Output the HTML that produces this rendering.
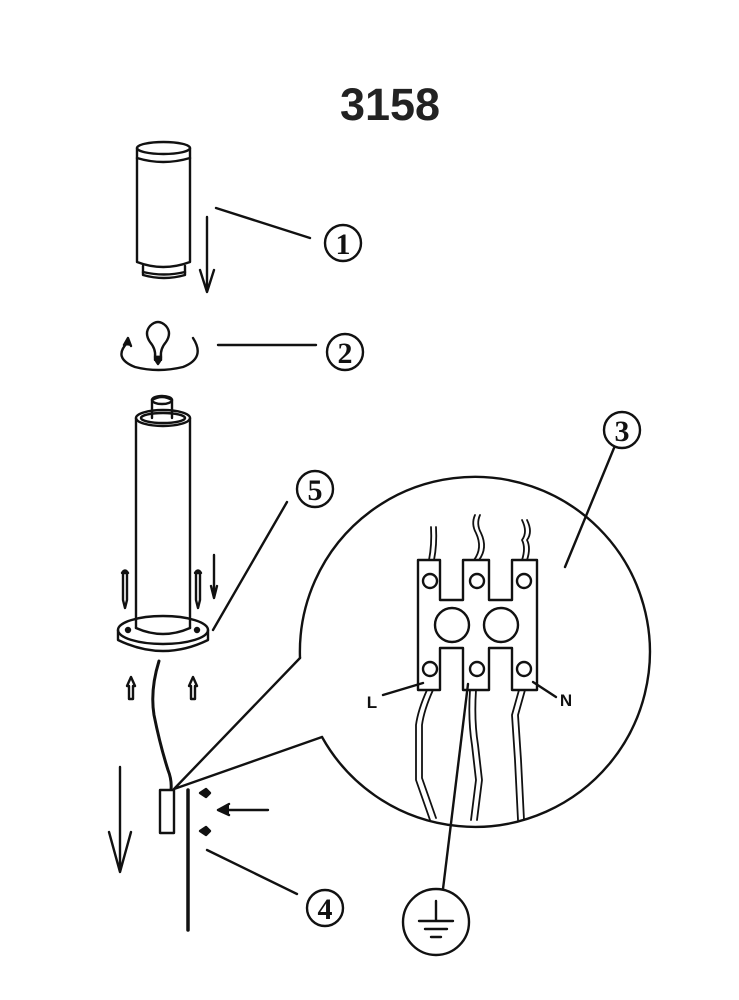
<!DOCTYPE html>
<html><head><meta charset="utf-8"><style>html,body{margin:0;padding:0;background:#fff}svg{display:block}</style></head><body>
<svg width="739" height="1000" viewBox="0 0 739 1000" xmlns="http://www.w3.org/2000/svg" fill="none" stroke="#111" stroke-width="2.4" stroke-linecap="round" stroke-linejoin="round">
<text x="390" y="120" text-anchor="middle" font-family="Liberation Sans, sans-serif" font-weight="bold" font-size="45" fill="#222" stroke="none">3158</text>

<!-- part 1 cylinder -->
<path d="M137 148 V262 Q163 272 190 262 V148"/>
<ellipse cx="163.5" cy="148" rx="26.5" ry="6"/>
<path d="M137 158 Q163 166 190 158"/>
<path d="M143 266 V275 Q164 281 185 275 V266"/>
<path d="M143 272 Q164 277 185 272"/>
<path d="M207 217 V292 M200 270 L207 292 L214 270"/>
<line x1="216" y1="208" x2="310" y2="238"/>
<circle cx="343" cy="243" r="18"/>
<text x="343" y="254" text-anchor="middle" font-family="Liberation Serif, serif" font-weight="bold" font-size="30" fill="#111" stroke="none">1</text>

<!-- bulb -->
<path d="M155 357 Q156 349 150 342 Q144 333 150 326 Q158 318 166 326 Q172 333 166 342 Q160 349 161 357 Z"/>
<path d="M155 357 h6 v3 h-6 z M156 361 l2 3 l2 -3" fill="#111"/>
<path d="M128 342 Q112 358 135 367 Q158 373 183 367 Q206 358 193 338"/>
<path d="M124 345 L128 338 L131 346" fill="#111"/>
<line x1="218" y1="345" x2="316" y2="345"/>
<circle cx="345" cy="352" r="18"/>
<text x="345" y="363" text-anchor="middle" font-family="Liberation Serif, serif" font-weight="bold" font-size="30" fill="#111" stroke="none">2</text>

<!-- post -->
<path d="M152 418 V400 Q162 394 172 400 V418"/>
<ellipse cx="162" cy="400" rx="10" ry="4"/>
<ellipse cx="163" cy="418" rx="27" ry="8"/>
<ellipse cx="163" cy="418" rx="22" ry="5"/>
<path d="M136 418 V628 M190 418 V628"/>
<ellipse cx="163" cy="630" rx="45" ry="14"/>
<path d="M118 630 V640 Q163 662 208 640 V630"/>
<path d="M136 628 Q163 640 190 628"/>
<circle cx="128" cy="630" r="2" fill="#111"/>
<circle cx="197" cy="630" r="2" fill="#111"/>
<path d="M122 573 Q125 568 128 573 Z M123 573 V600 L125 608 L127 600 V573"/>
<path d="M195 573 Q198 568 201 573 Z M196 573 V600 L198 608 L200 600 V573"/>
<path d="M214 555 V598 M211 586 L214 598 L217 586"/>
<path d="M129 699 V686 H127 L131 677 L135 686 H133 V699 Z" fill="#fff"/>
<path d="M191 699 V686 H189 L193 677 L197 686 H195 V699 Z" fill="#fff"/>
<line x1="213" y1="630" x2="287" y2="502"/>
<circle cx="315" cy="489" r="18"/>
<text x="315" y="500" text-anchor="middle" font-family="Liberation Serif, serif" font-weight="bold" font-size="30" fill="#111" stroke="none">5</text>

<!-- cable & ground part -->
<path d="M159 661 Q150 690 154 715 Q160 745 168 770 Q172 780 171 790" stroke-width="3"/>
<rect x="160" y="790" width="14" height="43" fill="#fff"/>
<line x1="188" y1="790" x2="188" y2="930" stroke-width="3.5"/>
<path d="M120 767 V872 M109 832 L120 872 L131 832"/>
<path d="M268 810 H218 M229 804 L218 810 L229 815" fill="#111"/>
<path d="M200 793 L206 789 L210 793 L206 797 Z M200 831 L206 827 L210 831 L206 835 Z" fill="#111"/>
<line x1="207" y1="850" x2="297" y2="894"/>
<circle cx="325" cy="908" r="18"/>
<text x="325" y="919" text-anchor="middle" font-family="Liberation Serif, serif" font-weight="bold" font-size="30" fill="#111" stroke="none">4</text>

<!-- callout -->
<path d="M174 789 L300 658 M174 789 L322 737"/>
<path d="M300 658 A175 175 0 1 1 322 737"/>
<line x1="565" y1="567" x2="614" y2="448"/>
<circle cx="622" cy="430" r="18"/>
<text x="622" y="441" text-anchor="middle" font-family="Liberation Serif, serif" font-weight="bold" font-size="30" fill="#111" stroke="none">3</text>

<!-- terminal block -->
<path d="M418 560 H440 V600 H463 V560 H489 V600 H512 V560 H537 V690 H512 V648 H489 V690 H463 V648 H440 V690 H418 Z"/>
<circle cx="452" cy="625" r="17"/>
<circle cx="501" cy="625" r="17"/>
<circle cx="430" cy="581" r="7"/><circle cx="477" cy="581" r="7"/><circle cx="524" cy="581" r="7"/>
<circle cx="430" cy="669" r="7"/><circle cx="477" cy="669" r="7"/><circle cx="524" cy="669" r="7"/>
<path d="M429 560 Q432 545 431 527 M434 560 Q437 545 436 527" stroke-width="1.8"/>
<path d="M474 560 Q483 548 476 533 Q471 524 475 515 M479 560 Q488 548 481 533 Q476 524 480 515" stroke-width="1.8"/>
<path d="M522 560 Q526 548 522 540 Q528 532 522 520 M527 560 Q531 548 527 540 Q533 532 527 520" stroke-width="1.8"/>
<path d="M427 690 Q418 710 416 725 V780 L430 820 M433 690 Q424 710 422 725 V778 L436 818" stroke-width="1.8"/>
<path d="M470 690 Q468 720 472 745 L476 780 L471 820 M476 690 Q474 720 478 745 L482 780 L477 820" stroke-width="1.8"/>
<path d="M519 690 L512 715 L515 760 L518 820 M525 690 L518 715 L521 760 L524 820" stroke-width="1.8"/>
<line x1="383" y1="695" x2="423" y2="683"/>
<text x="372" y="708" text-anchor="middle" font-family="Liberation Sans, sans-serif" font-weight="bold" font-size="17" fill="#111" stroke="none">L</text>
<line x1="533" y1="682" x2="556" y2="697"/>
<text x="566" y="706" text-anchor="middle" font-family="Liberation Sans, sans-serif" font-weight="bold" font-size="17" fill="#111" stroke="none">N</text>
<!-- ground -->
<line x1="468" y1="684" x2="443" y2="889"/>
<circle cx="436" cy="922" r="33"/>
<path d="M436 901 V921 M419 921 H453 M425 929 H447 M431 937 H441"/>
</svg>
</body></html>
